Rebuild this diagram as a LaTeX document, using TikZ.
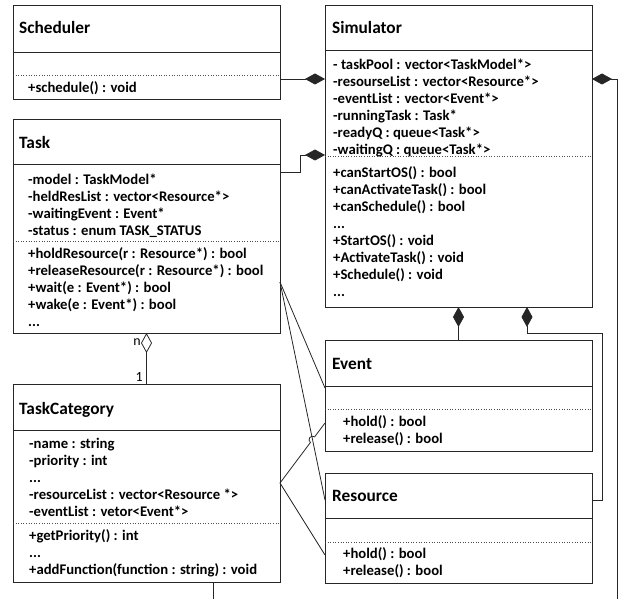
\documentclass[tikz,border=0pt]{standalone}
\usepackage{fontspec}
\setmainfont{Carlito}
\usetikzlibrary{arrows.meta,calc}

\begin{document}
\begin{tikzpicture}[x=1pt, y=-1pt,
    classbox/.style={draw=black!85, line width=0.9pt, minimum width=267pt,
      inner sep=0pt, outer sep=0pt, anchor=north west},
    ctitle/.style={font=\fontsize{17.3}{20}\selectfont\bfseries, anchor=base west, inner sep=0pt},
    cmembers/.style={font=\fontsize{14.7}{17}\selectfont\bfseries, anchor=north west,
      align=left, inner sep=0pt},
    hline/.style={black!85, line width=0.9pt},
    dotsep/.style={dotted, line width=0.6pt, black!70},
    link/.style={black!85, line width=0.8pt},
    comp/.style={link, -{Diamond[length=20pt, width=11pt]}},
    agg/.style={link, -{Diamond[open, length=20pt, width=11pt]}}]
\useasboundingbox (0,0) rectangle (622,599);

% Scheduler
\node[classbox, minimum height=94pt] (sched) at (13,5) {};
\node[ctitle] (sched-t) at (19,34) {Scheduler};
\draw[hline] (sched.west |- 0,52) -- (sched.east |- 0,52);
\draw[dotsep] (sched.west |- 0,75) -- (sched.east |- 0,75);
\node[cmembers] (sched-m) at (28,81) {+schedule() : void};

% Simulator
\node[classbox, minimum height=302pt] (sim) at (325,5) {};
\node[ctitle] (sim-t) at (332,34) {Simulator};
\draw[hline] (sim.west |- 0,50) -- (sim.east |- 0,50);
\node[cmembers] (sim-a) at (333,59)
  {- taskPool : vector<TaskModel*>\\-resourseList : vector<Resource*>\\
   -eventList : vector<Event*>\\-runningTask : Task*\\
   -readyQ : queue<Task*>\\-waitingQ : queue<Task*>};
\draw[dotsep] (sim.west |- 0,156) -- (sim.east |- 0,156);
\node[cmembers] (sim-m) at (333,166)
  {+canStartOS() : bool\\+canActivateTask() : bool\\+canSchedule() : bool\\...\\
   +StartOS() : void\\+ActivateTask() : void\\+Schedule() : void\\...};

% Task
\node[classbox, minimum height=214pt] (task) at (13,119) {};
\node[ctitle] (task-t) at (19,149) {Task};
\draw[hline] (task.west |- 0,164) -- (task.east |- 0,164);
\node[cmembers] (task-a) at (28,174)
  {-model : TaskModel*\\-heldResList : vector<Resource*>\\
   -waitingEvent : Event*\\-status : enum TASK\_STATUS};
\draw[dotsep] (task.west |- 0,241) -- (task.east |- 0,241);
\node[cmembers] (task-m) at (28,247)
  {+holdResource(r : Resource*) : bool\\+releaseResource(r : Resource*) : bool\\
   +wait(e : Event*) : bool\\+wake(e : Event*) : bool\\...};

% TaskCategory
\node[classbox, minimum height=198pt] (tc) at (13,384) {};
\node[ctitle] (tc-t) at (19,414) {TaskCategory};
\draw[hline] (tc.west |- 0,430) -- (tc.east |- 0,430);
\node[cmembers] (tc-a) at (29,438)
  {-name : string\\-priority : int\\...\\
   -resourceList : vector<Resource *>\\-eventList : vetor<Event*>};
\draw[dotsep] (tc.west |- 0,523) -- (tc.east |- 0,523);
\node[cmembers] (tc-m) at (29,529)
  {+getPriority() : int\\...\\+addFunction(function : string) : void};

% Event
\node[classbox, minimum height=111pt] (ev) at (325,340) {};
\node[ctitle] (ev-t) at (332,369) {Event};
\draw[hline] (ev.west |- 0,386) -- (ev.east |- 0,386);
\draw[dotsep] (ev.west |- 0,409) -- (ev.east |- 0,409);
\node[cmembers] (ev-m) at (343,415) {+hold() : bool\\+release() : bool};

% Resource
\node[classbox, minimum height=110pt] (res) at (325,473) {};
\node[ctitle] (res-t) at (332,501) {Resource};
\draw[hline] (res.west |- 0,518) -- (res.east |- 0,518);
\draw[dotsep] (res.west |- 0,542) -- (res.east |- 0,542);
\node[cmembers] (res-m) at (343,547) {+hold() : bool\\+release() : bool};

% compositions
\draw[comp] (sched.east |- 0,79) -- (sim.west |- 0,79);
\draw[comp] (task.east |- 0,172) -- (300,172) -- (300,155) -- (sim.west |- 0,155);
\coordinate (sim-out) at (617,599);
\draw[comp] (sim-out) |- (sim.east |- 0,79);
\draw[comp] (ev.north) -- (sim.south -| ev.north);
\draw[comp] (res.east |- 0,500) -| (602,333) -| (sim.south -| 527,0);

% aggregation n..1
\draw[agg] (tc.north) -- (task.south);
\node[font=\fontsize{14}{17}\selectfont, anchor=east, inner sep=0pt] (agg-n) at (141,342) {n};
\node[font=\fontsize{14}{17}\selectfont, anchor=east, inner sep=0pt] (agg-1) at (143,377) {1};
\coordinate (tc-out) at (213,599);
\draw[link] (tc.south -| tc-out) -- (tc-out);

% associations
\coordinate (task-r) at (task.east |- 0,282);
\coordinate (tc-r) at (tc.east |- 0,483);
\coordinate (ev-in1) at (ev.west |- 0,388);
\coordinate (ev-in2) at (ev.west |- 0,423);
\coordinate (res-in1) at (res.west |- 0,500);
\coordinate (res-in2) at (res.west |- 0,555);
\draw[link] (task-r) -- (ev-in1);
\draw[link] (task-r) -- (res-in1);
\draw[link] (tc-r) -- ($(tc-r)!0.676!(ev-in2)$)
  arc[start angle=233.13, end angle=53.13, radius=3.5pt] -- (ev-in2);
\draw[link] (tc-r) -- (res-in2);
\end{tikzpicture}
\end{document}
